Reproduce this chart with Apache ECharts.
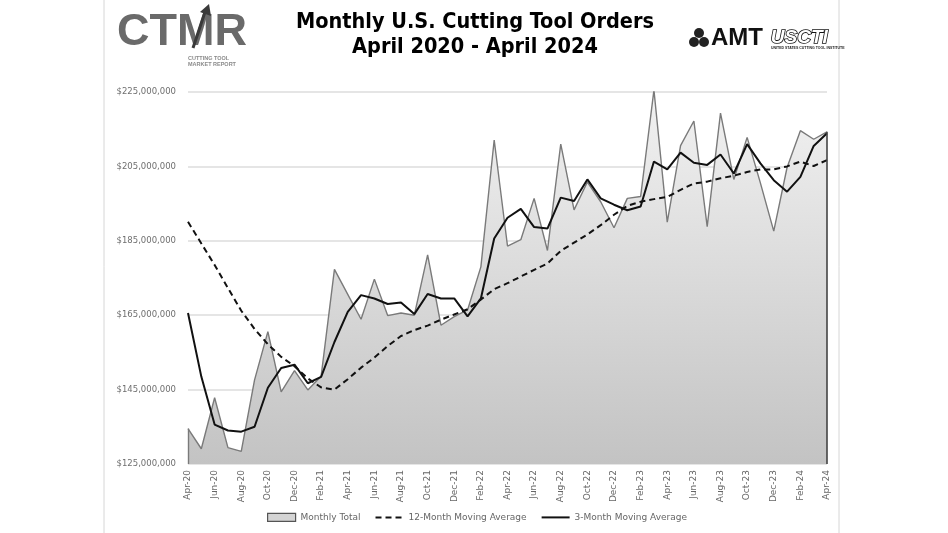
<!DOCTYPE html>
<html>
<head>
<meta charset="utf-8">
<script src="https://cdn.jsdelivr.net/npm/echarts@6/dist/echarts.min.js"></script>
<style>
html,body{margin:0;padding:0;background:#fff;}
#chart{width:948px;height:533px;}
</style>
</head>
<body>
<div id="chart"></div>
<script>
// ---- Data (values in millions of US dollars) ----
const months = ['Apr-20','May-20','Jun-20','Jul-20','Aug-20','Sep-20','Oct-20','Nov-20','Dec-20','Jan-21','Feb-21','Mar-21',
  'Apr-21','May-21','Jun-21','Jul-21','Aug-21','Sep-21','Oct-21','Nov-21','Dec-21','Jan-22','Feb-22','Mar-22',
  'Apr-22','May-22','Jun-22','Jul-22','Aug-22','Sep-22','Oct-22','Nov-22','Dec-22','Jan-23','Feb-23','Mar-23',
  'Apr-23','May-23','Jun-23','Jul-23','Aug-23','Sep-23','Oct-23','Nov-23','Dec-23','Jan-24','Feb-24','Mar-24','Apr-24'];

const monthlyTotal = [134.5,129.1,142.8,129.4,128.4,147.6,160.6,144.4,150.1,144.9,148.6,177.3,
  170.6,163.9,174.7,164.9,165.6,165.0,181.2,162.3,164.6,166.4,178.0,212.1,
  183.6,185.3,196.4,182.4,211.0,193.3,200.8,195.5,188.5,196.4,196.9,225.5,
  190.0,210.6,217.2,188.8,219.3,201.5,212.8,200.5,187.6,204.7,214.6,212.3,214.3];

const movingAvg12 = [190.1,184.3,178.5,172.3,166.2,161.3,157.2,153.8,151.3,148.0,145.6,145.0,
  147.8,150.9,153.6,156.7,159.4,161.0,162.2,163.8,165.2,166.6,169.2,172.0,
  173.6,175.4,177.2,178.9,182.3,184.5,186.7,189.2,192.0,194.4,195.5,196.2,
  196.8,198.7,200.4,200.9,201.8,202.5,203.5,204.2,204.2,205.0,206.3,205.1,206.7];

const movingAvg3 = [165.6,148.5,135.6,134.0,133.7,135.0,145.5,150.8,151.7,146.7,148.4,157.8,
  165.9,170.4,169.5,168.0,168.4,165.3,170.7,169.5,169.5,164.7,169.5,185.6,
  191.2,193.6,188.7,188.3,196.6,195.7,201.5,196.4,194.7,193.2,194.2,206.3,
  204.2,208.7,206.0,205.4,208.2,203.1,211.0,205.8,201.3,198.2,202.2,210.5,213.9];

const yTicks = {min:125, max:225, step:20};
const seriesNames = ['Monthly Total','12-Month Moving Average','3-Month Moving Average'];
const titleLines = ['Monthly U.S. Cutting Tool Orders','April 2020 - April 2024'];

const chart = echarts.init(document.getElementById('chart'), null, {renderer:'canvas'});
const last = months.length - 1;
const labelFont = 'DejaVu Sans';

chart.setOption({
  backgroundColor:'#ffffff',
  animation:false,
  title:{
    text: titleLines.join('\n'),
    left: 475, top: 10, padding:0, textAlign:'center',
    textStyle:{fontFamily:'DejaVu Sans Condensed', fontWeight:'bold', fontSize:21.5, color:'#000', lineHeight:25}
  },
  grid:{left:188, right:121, top:92, bottom:69, containLabel:false},
  legend:{
    bottom: 6, left: 262,
    itemWidth: 28, itemHeight: 8, itemGap: 14,
    textStyle:{fontFamily:labelFont, fontSize:9, color:'#666'},
    data:[
      {name:seriesNames[0], icon:'rect', itemStyle:{color:'#d4d4d4', borderColor:'#555', borderWidth:1.2}},
      {name:seriesNames[1], itemStyle:{opacity:0}},
      {name:seriesNames[2], itemStyle:{opacity:0}}
    ]
  },
  xAxis:{
    type:'category', data: months, boundaryGap:false,
    axisLine:{show:false}, axisTick:{show:false},
    axisLabel:{interval:1, rotate:90, margin:6, fontFamily:labelFont, fontSize:9, color:'#666'},
    splitLine:{show:false}
  },
  yAxis:{
    type:'value', min:yTicks.min, max:yTicks.max, interval:yTicks.step,
    axisLine:{show:false}, axisTick:{show:false},
    axisLabel:{margin:12, fontFamily:labelFont, fontSize:8.5, color:'#6f6f6f',
      formatter: v => '$' + Math.round(v*1e6).toLocaleString('en-US')},
    splitLine:{lineStyle:{color:'#dcdcdc', width:1.5}}
  },
  series:[
    {
      name:seriesNames[0], type:'line', data: monthlyTotal, symbol:'none',
      lineStyle:{color:'#7a7a7a', width:1.4},
      itemStyle:{color:'#d4d4d4', borderColor:'#555'},
      areaStyle:{opacity:1, color:new echarts.graphic.LinearGradient(0,0,0,1,[
        {offset:0,color:'#f2f2f2'},{offset:1,color:'#c3c3c3'}])},
      markLine:{
        silent:true, symbol:'none', label:{show:false},
        data:[
          [{coord:[months[0], yTicks.min], lineStyle:{color:'#7a7a7a', width:1.4, type:'solid'}},{coord:[months[0], monthlyTotal[0]]}],
          [{coord:[months[last], yTicks.min], lineStyle:{color:'#444', width:1.6, type:'solid'}},{coord:[months[last], monthlyTotal[last]]}]
        ]
      },
      z:1
    },
    {
      name:seriesNames[1], type:'line', data: movingAvg12, symbol:'none',
      lineStyle:{color:'#111', width:2, type:[6,4]},
      itemStyle:{color:'#111'}, z:3
    },
    {
      name:seriesNames[2], type:'line', data: movingAvg3, symbol:'none',
      lineStyle:{color:'#111', width:2},
      itemStyle:{color:'#111'}, z:4
    }
  ],
  graphic:[
    {type:'rect', shape:{x:104, y:-1, width:735, height:535}, style:{fill:'none', stroke:'#d6d6d6', lineWidth:1}, silent:true},
    // CTMR logo
    {type:'text', left:117, top:10, style:{text:'CTMR', fontFamily:'Liberation Sans', fontWeight:'bold', fontSize:45, fill:'#6a6a6a'}},
    {type:'polyline', shape:{points:[[193,48],[205,12]]}, style:{stroke:'#3a3a3a', lineWidth:3}},
    {type:'polygon', shape:{points:[[200,12],[209,4],[211,16]]}, style:{fill:'#3a3a3a'}},
    {type:'text', left:188, top:55, style:{text:'CUTTING TOOL\nMARKET REPORT', fontFamily:'Liberation Sans', fontWeight:'bold', fontSize:5.5, lineHeight:6, fill:'#8a8a8a'}},
    // AMT logo
    {type:'circle', shape:{cx:699, cy:33, r:5}, style:{fill:'#222'}},
    {type:'circle', shape:{cx:694, cy:42, r:5}, style:{fill:'#222'}},
    {type:'circle', shape:{cx:704, cy:42, r:5}, style:{fill:'#222'}},
    {type:'text', left:711, top:26, style:{text:'AMT', fontFamily:'Liberation Sans', fontWeight:'bold', fontSize:24, fill:'#111'}},
    // USCTI logo
    {type:'text', left:770, top:27, style:{text:'USCTI', fontFamily:'Liberation Sans', fontWeight:'bold', fontStyle:'italic', fontSize:19, fill:'#fff', stroke:'#111', lineWidth:1.6}},
    {type:'text', left:771, top:46, style:{text:'UNITED STATES CUTTING TOOL INSTITUTE', fontFamily:'Liberation Sans', fontWeight:'bold', fontSize:3.5, fill:'#222'}}
  ]
});
</script>
</body>
</html>
